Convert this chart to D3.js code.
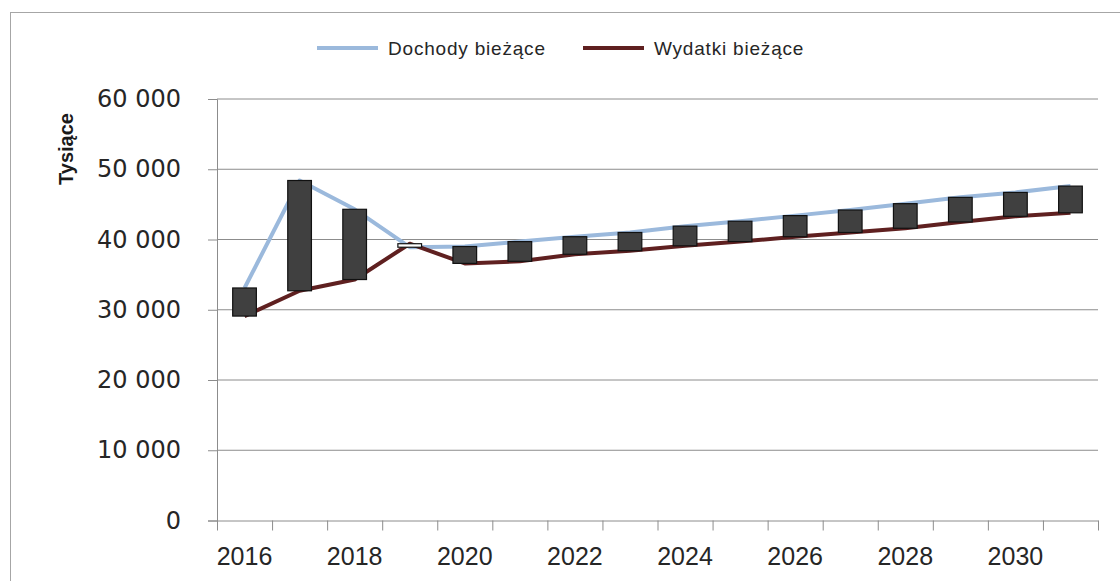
<!DOCTYPE html>
<html>
<head>
<meta charset="utf-8">
<script src="https://cdn.jsdelivr.net/npm/d3@7"></script>
<style>
  body { margin: 0; background: #fff; }
  svg { display: block; }
</style>
</head>
<body>
<div id="chart"></div>
<script>
var years = [2016, 2017, 2018, 2019, 2020, 2021, 2022, 2023, 2024, 2025, 2026, 2027, 2028, 2029, 2030, 2031];
var dochody = [33100, 48400, 44300, 38900, 39000, 39700, 40400, 41000, 41900, 42600, 43400, 44200, 45100, 46000, 46700, 47600];
var wydatki = [29100, 32700, 34300, 39400, 36600, 36900, 37900, 38400, 39100, 39700, 40400, 41000, 41600, 42500, 43300, 43800];
var yTicks = [0, 10000, 20000, 30000, 40000, 50000, 60000];
var xLabels = [2016, 2018, 2020, 2022, 2024, 2026, 2028, 2030];
var seriesNames = ['Dochody bieżące', 'Wydatki bieżące'];

var width = 1120;
var height = 581;
var plotLeft = 217, plotRight = 1098, plotTop = 99, plotBottom = 520.5;

var svg = d3.select('#chart')
  .append('svg')
    .attr('width', width)
    .attr('height', height);

// chart frame
svg.append('rect')
  .attr('x', 10.5).attr('y', 12.5)
  .attr('width', 1130).attr('height', 600)
  .attr('fill', '#fff')
  .attr('stroke', '#a6a6a6');

var x = d3.scaleBand()
  .domain(years)
  .range([plotLeft, plotRight]);

var y = d3.scaleLinear()
  .domain([0, 60000])
  .range([plotBottom, plotTop]);

var cx = function(d) { return x(d) + x.bandwidth() / 2; };
var fmt = function(v) { return d3.format(',')(v).replace(/,/g, ' '); };

// gridlines
svg.append('g')
  .selectAll('line')
  .data(yTicks.filter(function(v) { return v > 0; }))
  .enter().append('line')
    .attr('x1', plotLeft).attr('x2', plotRight)
    .attr('y1', function(d) { return y(d); })
    .attr('y2', function(d) { return y(d); })
    .attr('stroke', '#8c8c8c')
    .attr('stroke-width', 1);

// y axis
var yAxis = svg.append('g')
  .attr('transform', 'translate(' + plotLeft + ',0)')
  .call(d3.axisLeft(y).tickValues(yTicks).tickSize(9).tickPadding(27).tickFormat(fmt));
yAxis.select('.domain').attr('stroke', '#8c8c8c');
yAxis.selectAll('.tick line').attr('stroke', '#8c8c8c');
yAxis.selectAll('text')
  .attr('font-family', 'DejaVu Sans, sans-serif')
  .attr('font-size', 24)
  .attr('fill', '#262626');

// x axis: ticks on category boundaries
var xb = d3.scaleLinear().domain([0, years.length]).range([plotLeft, plotRight]);
var xAxis = svg.append('g')
  .attr('transform', 'translate(0,' + plotBottom + ')')
  .call(d3.axisBottom(xb).tickValues(d3.range(years.length + 1)).tickSize(10).tickSizeOuter(0).tickFormat(''));
xAxis.select('.domain').attr('stroke', '#8c8c8c');
xAxis.selectAll('.tick line').attr('stroke', '#8c8c8c');

svg.append('g')
  .selectAll('text')
  .data(xLabels)
  .enter().append('text')
    .attr('x', function(d) { return cx(d); })
    .attr('y', 565)
    .attr('text-anchor', 'middle')
    .attr('font-family', 'Liberation Sans, sans-serif')
    .attr('font-size', 25)
    .attr('fill', '#262626')
    .text(function(d) { return d; });

// y title
svg.append('text')
  .attr('transform', 'translate(73,149) rotate(-90)')
  .attr('text-anchor', 'middle')
  .attr('font-family', 'Liberation Sans, sans-serif')
  .attr('font-weight', 'bold')
  .attr('font-size', 20)
  .attr('fill', '#1a1a1a')
  .text('Tysiące');

// lines
var rows = years.map(function(yr, i) { return { year: yr, d: dochody[i], w: wydatki[i] }; });

svg.append('path')
  .datum(rows)
  .attr('d', d3.line().x(function(r) { return cx(r.year); }).y(function(r) { return y(r.d); }))
  .attr('fill', 'none')
  .attr('stroke', '#9bb9dc')
  .attr('stroke-width', 4)
  .attr('stroke-linejoin', 'round');

svg.append('path')
  .datum(rows)
  .attr('d', d3.line().x(function(r) { return cx(r.year); }).y(function(r) { return y(r.w); }))
  .attr('fill', 'none')
  .attr('stroke', '#5f2020')
  .attr('stroke-width', 4)
  .attr('stroke-linejoin', 'round');

// up-down bars
var bw = x.bandwidth() * 0.43;
svg.append('g')
  .selectAll('rect')
  .data(rows)
  .enter().append('rect')
    .attr('x', function(r) { return cx(r.year) - bw / 2; })
    .attr('y', function(r) { return y(Math.max(r.d, r.w)); })
    .attr('width', bw)
    .attr('height', function(r) { return Math.abs(y(r.d) - y(r.w)); })
    .attr('fill', function(r) { return r.w > r.d ? '#ffffff' : '#404040'; })
    .attr('stroke', '#111')
    .attr('stroke-width', 1.2);

// legend
var legendX = [317, 583];
var legendColors = ['#9bb9dc', '#5f2020'];
var legend = svg.append('g');
seriesNames.forEach(function(name, i) {
  legend.append('line')
    .attr('x1', legendX[i]).attr('x2', legendX[i] + 61)
    .attr('y1', 48).attr('y2', 48)
    .attr('stroke', legendColors[i])
    .attr('stroke-width', 4);
  legend.append('text')
    .attr('x', legendX[i] + 71)
    .attr('y', 55)
    .attr('font-family', 'Liberation Sans, sans-serif')
    .attr('font-size', 19)
    .attr('letter-spacing', 0.8)
    .attr('fill', '#262626')
    .text(name);
});
</script>
</body>
</html>
